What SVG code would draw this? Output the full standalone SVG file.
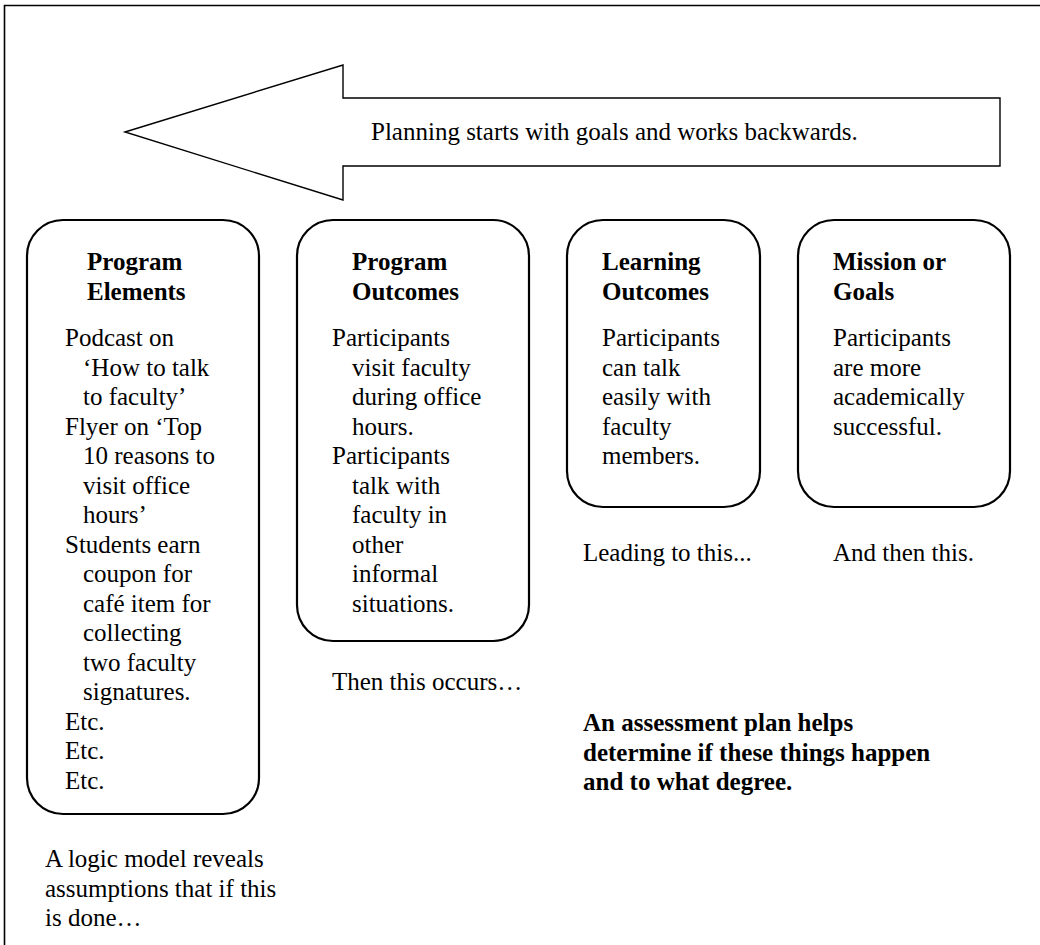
<svg xmlns="http://www.w3.org/2000/svg" width="1040" height="945" viewBox="0 0 1040 945">
<style>
text{font-family:"Liberation Serif","Times New Roman",serif;font-size:25px;fill:#000}
.b{font-weight:bold}
.box{fill:#fff;stroke:#000;stroke-width:2.2}
.frame{fill:none;stroke:#000;stroke-width:1.6}
.arrow{fill:#fff;stroke:#000;stroke-width:1.4;stroke-linejoin:miter}
</style>
<rect x="0" y="0" width="1040" height="945" fill="#fff"/>
<path class="frame" d="M4.5,945 V5.5 H1040"/>
<g id="connectors">
<polygon class="arrow" points="125,132 343,65 343,98 1000,98 1000,166 343,166 343,200"/>
<text x="371" y="140">Planning starts with goals and works backwards.</text>
</g>
<g id="program-elements">
<rect class="box" x="27" y="220" width="232" height="594" rx="36" ry="36"/>
<text class="b" x="87" y="270">Program</text>
<text class="b" x="87" y="299.5">Elements</text>
<text x="65" y="346">Podcast on</text>
<text x="83" y="375.5">‘How to talk</text>
<text x="83" y="405">to faculty’</text>
<text x="65" y="434.5">Flyer on ‘Top</text>
<text x="83" y="464">10 reasons to</text>
<text x="83" y="493.5">visit office</text>
<text x="83" y="523">hours’</text>
<text x="65" y="552.5">Students earn</text>
<text x="83" y="582">coupon for</text>
<text x="83" y="611.5">café item for</text>
<text x="83" y="641">collecting</text>
<text x="83" y="670.5">two faculty</text>
<text x="83" y="700">signatures.</text>
<text x="65" y="729.5">Etc.</text>
<text x="65" y="759">Etc.</text>
<text x="65" y="788.5">Etc.</text>
</g>
<g id="program-outcomes">
<rect class="box" x="297" y="220" width="232" height="421" rx="36" ry="36"/>
<text class="b" x="352" y="270">Program</text>
<text class="b" x="352" y="299.5">Outcomes</text>
<text x="332" y="346">Participants</text>
<text x="352" y="375.5">visit faculty</text>
<text x="352" y="405">during office</text>
<text x="352" y="434.5">hours.</text>
<text x="332" y="464">Participants</text>
<text x="352" y="493.5">talk with</text>
<text x="352" y="523">faculty in</text>
<text x="352" y="552.5">other</text>
<text x="352" y="582">informal</text>
<text x="352" y="611.5">situations.</text>
</g>
<g id="learning-outcomes">
<rect class="box" x="567" y="220" width="193" height="287" rx="36" ry="36"/>
<text class="b" x="602" y="270">Learning</text>
<text class="b" x="602" y="299.5">Outcomes</text>
<text x="602" y="346">Participants</text>
<text x="602" y="375.5">can talk</text>
<text x="602" y="405">easily with</text>
<text x="602" y="434.5">faculty</text>
<text x="602" y="464">members.</text>
</g>
<g id="mission-goals">
<rect class="box" x="798" y="220" width="212" height="287" rx="36" ry="36"/>
<text class="b" x="833" y="270">Mission or</text>
<text class="b" x="833" y="299.5">Goals</text>
<text x="833" y="346">Participants</text>
<text x="833" y="375.5">are more</text>
<text x="833" y="405">academically</text>
<text x="833" y="434.5">successful.</text>
</g>
<g id="captions">
<text x="583" y="561">Leading to this...</text>
<text x="833" y="561">And then this.</text>
<text x="332" y="690">Then this occurs…</text>
<text class="b" x="583" y="731">An assessment plan helps</text>
<text class="b" x="583" y="760.5">determine if these things happen</text>
<text class="b" x="583" y="790">and to what degree.</text>
<text x="45" y="867">A logic model reveals</text>
<text x="45" y="896.5">assumptions that if this</text>
<text x="45" y="926">is done…</text>
</g>
</svg>
